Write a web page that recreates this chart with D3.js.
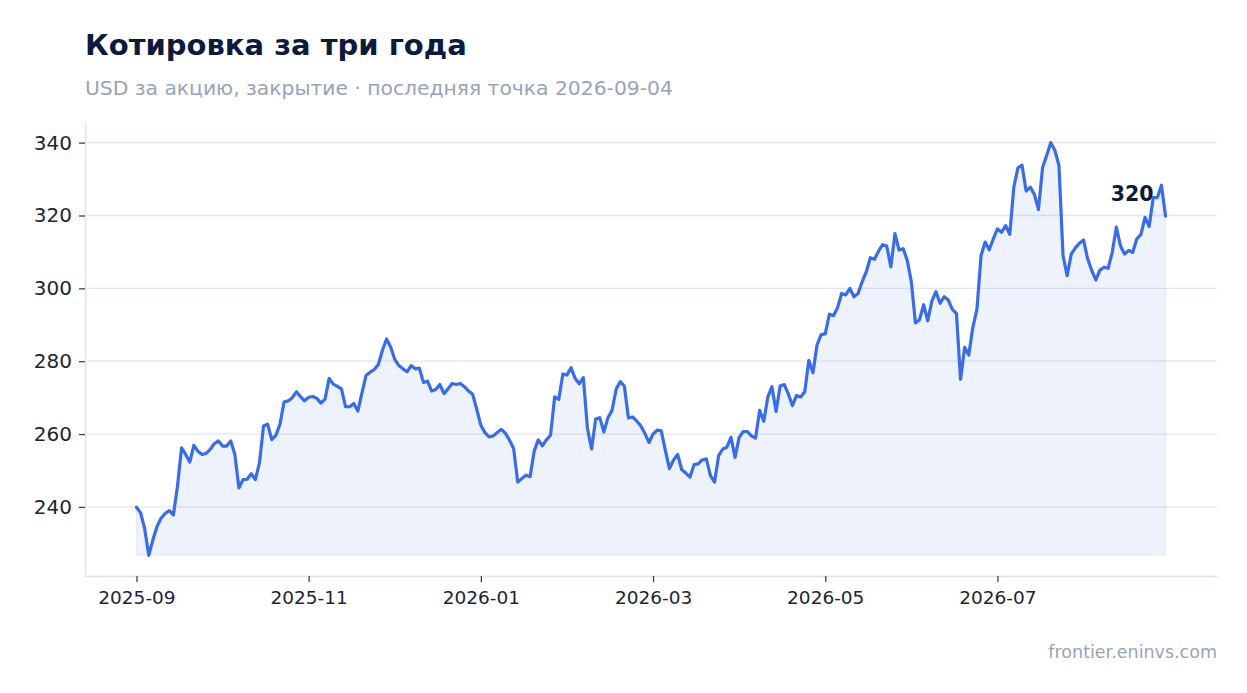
<!DOCTYPE html>
<html lang="ru">
<head>
<meta charset="utf-8">
<script src="https://cdn.jsdelivr.net/npm/d3@7"></script>
<style>
  html, body { margin: 0; padding: 0; background: #fff; }
  svg { display: block; font-family: "DejaVu Sans", sans-serif; }
</style>
</head>
<body>
<svg id="chart"></svg>
<script>
// daily closes, USD (one value per trading session)
const closes = [
  239.9, 238.4, 234.1, 226.7, 230.9, 234.6, 236.9, 238.2, 239.0, 237.8,
  245.6, 256.2, 254.4, 252.3, 256.9, 255.3, 254.4, 254.7, 255.8, 257.4,
  258.1, 256.7, 256.7, 258.1, 254.4, 245.2, 247.5, 247.6, 249.1, 247.5,
  252.1, 262.2, 262.7, 258.5, 259.6, 262.7, 268.8, 269.1, 270.0, 271.6,
  270.3, 269.1, 270.1, 270.3, 269.8, 268.5, 269.6, 275.3, 273.7, 273.1,
  272.4, 267.5, 267.5, 268.4, 266.3, 271.3, 276.1, 277.0, 277.7, 279.1,
  283.0, 286.1, 283.9, 280.5, 278.8, 277.9, 277.1, 278.8, 277.9, 278.1,
  274.2, 274.5, 271.8, 272.2, 273.6, 271.1, 272.4, 273.9, 273.6, 273.9,
  273.0, 271.8, 270.9, 266.8, 262.4, 260.4, 259.2, 259.5, 260.4, 261.3,
  260.2, 258.3, 256.0, 246.8, 247.8, 248.7, 248.3, 255.3, 258.4, 256.8,
  258.4, 259.7, 270.2, 269.5, 276.5, 276.2, 278.2, 275.3, 273.8, 275.5,
  261.6, 255.9, 264.1, 264.5, 260.6, 264.5, 266.5, 272.3, 274.4, 273.2,
  264.4, 264.7, 263.6, 262.3, 260.2, 257.7, 260.0, 261.1, 260.9, 255.5,
  250.5, 252.9, 254.4, 250.2, 249.3, 248.2, 251.6, 251.8, 252.9, 253.2,
  248.6, 246.8, 254.1, 255.9, 256.4, 259.1, 253.6, 259.1, 260.7, 260.7,
  259.5, 258.9, 266.5, 263.5, 270.2, 273.0, 266.2, 273.2, 273.6, 271.0,
  267.8, 270.6, 270.2, 271.6, 280.2, 276.8, 284.5, 287.3, 287.5, 292.9,
  292.5, 294.7, 298.6, 298.2, 300.0, 297.7, 298.6, 301.8, 304.5, 308.4,
  308.0, 310.2, 312.0, 311.6, 305.9, 315.0, 310.5, 310.9, 307.7, 301.8,
  290.5, 291.4, 295.5, 291.1, 296.5, 299.1, 295.9, 297.7, 296.8, 294.2,
  293.1, 275.0, 283.8, 281.7, 289.3, 294.3, 309.0, 312.7, 310.6, 313.6,
  316.3, 315.4, 317.2, 314.8, 327.8, 333.1, 333.8, 326.7, 327.8, 325.8,
  321.6, 333.1, 336.5, 340.0, 337.9, 333.8, 309.0, 303.5, 309.4, 311.1,
  312.4, 313.3, 308.1, 304.9, 302.3, 305.0, 305.8, 305.5, 309.9, 316.8,
  311.7, 309.4, 310.4, 309.9, 313.6, 314.8, 319.5, 317.0, 324.9, 324.9,
  328.3, 319.8
];

// month labels on the x axis, one every 42 sessions (~2 months)
const tickLabels = ["2025-09", "2025-11", "2026-01", "2026-03", "2026-05", "2026-07"];
const sessionsPerTick = 42;

const titleText = "Котировка за три года";
const subtitleText = "USD за акцию, закрытие · последняя точка 2026-09-04";
const sourceText = "frontier.eninvs.com";

const width = 1247, height = 693;
const margin = { top: 122, right: 30, bottom: 117, left: 85 };
const w = width - margin.left - margin.right;
const h = height - margin.top - margin.bottom;

const svg = d3.select("#chart").attr("width", width).attr("height", height);

const data = closes.map((v, i) => ({ i, v }));
const n = data.length - 1;

// 5% padding on both axes
const x = d3.scaleLinear().domain([-0.05 * n, n * 1.05]).range([0, w]);
const yMin = d3.min(closes), yMax = d3.max(closes);
const yPad = (yMax - yMin) * 0.05;
const y = d3.scaleLinear().domain([yMin - yPad, yMax + yPad]).range([h, 0]);

const g = svg.append("g").attr("transform", `translate(${margin.left},${margin.top})`);

// grid
g.append("g")
  .selectAll("line")
  .data(y.ticks(6))
  .join("line")
  .attr("x1", 0).attr("x2", w)
  .attr("y1", d => y(d)).attr("y2", d => y(d))
  .attr("stroke", "#e2e6ef")
  .attr("stroke-width", 1.3);

// area under the line, down to the lowest close
const area = d3.area()
  .x(d => x(d.i))
  .y0(y(yMin))
  .y1(d => y(d.v));

g.append("path")
  .datum(data)
  .attr("d", area)
  .attr("fill", "#3d6ee8")
  .attr("fill-opacity", 0.09)
  .attr("stroke", "#3d6ee8")
  .attr("stroke-opacity", 0.08)
  .attr("stroke-width", 1.5);

const line = d3.line().x(d => x(d.i)).y(d => y(d.v));

g.append("path")
  .datum(data)
  .attr("d", line)
  .attr("fill", "none")
  .attr("stroke", "#3a6ce8")
  .attr("stroke-width", 3.2)
  .attr("stroke-linejoin", "round")
  .attr("stroke-linecap", "round");

// axes (no outer ticks, spines only)
const yAxis = g.append("g")
  .call(d3.axisLeft(y).ticks(6).tickSize(6).tickSizeOuter(0).tickPadding(7));
const xAxis = g.append("g")
  .attr("transform", `translate(0,${h})`)
  .call(d3.axisBottom(x)
    .tickValues(tickLabels.map((_, k) => k * sessionsPerTick))
    .tickFormat((_, k) => tickLabels[k])
    .tickSize(6).tickSizeOuter(0).tickPadding(9));

[yAxis, xAxis].forEach(ax => {
  ax.select(".domain").attr("stroke", "#dfe3ec").attr("stroke-width", 1.5);
  ax.selectAll(".tick line").attr("stroke", "#3c4256").attr("stroke-width", 1.3);
  ax.selectAll(".tick text")
    .attr("fill", "#1e2433")
    .style("font-family", "'DejaVu Sans', sans-serif");
});
yAxis.selectAll(".tick text").style("font-size", "20px");
xAxis.selectAll(".tick text").style("font-size", "18.5px");

// last value label
const last = data[n];
g.append("text")
  .attr("x", x(last.i) - 12)
  .attr("y", y(last.v) - 15)
  .attr("text-anchor", "end")
  .attr("fill", "#0b1a3d")
  .style("font-size", "20.5px")
  .style("font-weight", "bold")
  .text(d3.format(".0f")(last.v));

// titles
svg.append("text")
  .attr("x", margin.left).attr("y", 55)
  .attr("fill", "#0b1a3d")
  .style("font-size", "29px")
  .style("font-weight", "bold")
  .text(titleText);

svg.append("text")
  .attr("x", margin.left).attr("y", 95)
  .attr("fill", "#97a3b9")
  .style("font-size", "20.3px")
  .text(subtitleText);

svg.append("text")
  .attr("x", margin.left + w).attr("y", 658)
  .attr("text-anchor", "end")
  .attr("fill", "#97a3b9")
  .style("font-size", "17.5px")
  .text(sourceText);
</script>
</body>
</html>
